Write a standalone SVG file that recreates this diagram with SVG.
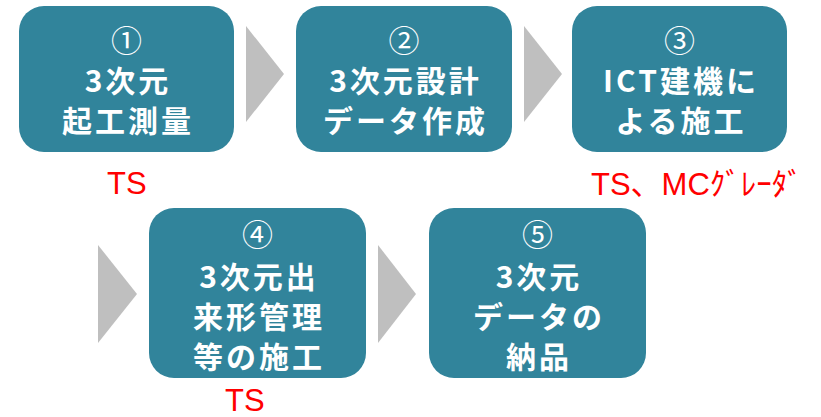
<svg xmlns="http://www.w3.org/2000/svg" width="821" height="417" viewBox="0 0 821 417">
<style>
.box{fill:#31849B;}
.t{font-family:"Noto Sans CJK JP","Noto Sans",sans-serif;font-size:30px;font-weight:bold;fill:#FFFFFF;text-anchor:middle;letter-spacing:3px;}
.n{font-family:"Noto Sans CJK JP","Noto Sans",sans-serif;font-size:31px;font-weight:normal;fill:#FFFFFF;text-anchor:middle;}
.r{font-family:"Liberation Sans","Noto Sans CJK JP",sans-serif;font-size:31px;fill:#FF0000;}
.arr{fill:#BFBFBF;}
</style>
<rect width="821" height="417" fill="#FFFFFF"/>
<g id="connectors">
<polygon class="arr" points="246,26 284,74 246,122"/>
<polygon class="arr" points="524,26 562,74 524,122"/>
<polygon class="arr" points="98,245 137,294 98,343"/>
<polygon class="arr" points="378,245 416,294 378,343"/>
</g>
<g id="node1">
<rect class="box" x="19" y="6" width="215" height="146" rx="25" ry="25"/>
<text class="n" x="126.5" y="52">①</text>
<text class="t" x="128" y="92">3次元</text>
<text class="t" x="128" y="132">起工測量</text>
</g>
<g id="node2">
<rect class="box" x="296" y="6" width="216" height="146" rx="25" ry="25"/>
<text class="n" x="404" y="52">②</text>
<text class="t" x="405.5" y="92">3次元設計</text>
<text class="t" x="405.5" y="132">データ作成</text>
</g>
<g id="node3">
<rect class="box" x="572" y="6" width="215" height="146" rx="25" ry="25"/>
<text class="n" x="679.5" y="52">③</text>
<text class="t" x="681" y="92">ICT建機に</text>
<text class="t" x="681" y="132">よる施工</text>
</g>
<g id="node4">
<rect class="box" x="149" y="208" width="217" height="170" rx="25" ry="25"/>
<text class="n" x="257.5" y="246">④</text>
<text class="t" x="259" y="288">3次元出</text>
<text class="t" x="259" y="328">来形管理</text>
<text class="t" x="259" y="368">等の施工</text>
</g>
<g id="node5">
<rect class="box" x="429" y="208" width="217" height="170" rx="25" ry="25"/>
<text class="n" x="537.5" y="246">⑤</text>
<text class="t" x="539" y="288">3次元</text>
<text class="t" x="539" y="328">データの</text>
<text class="t" x="539" y="368">納品</text>
</g>
<g id="labels">
<text class="r" x="107" y="194">TS</text>
<text class="r" x="591" y="195">TS、MCｸﾞﾚｰﾀﾞ</text>
<text class="r" x="225" y="411">TS</text>
</g>
</svg>
